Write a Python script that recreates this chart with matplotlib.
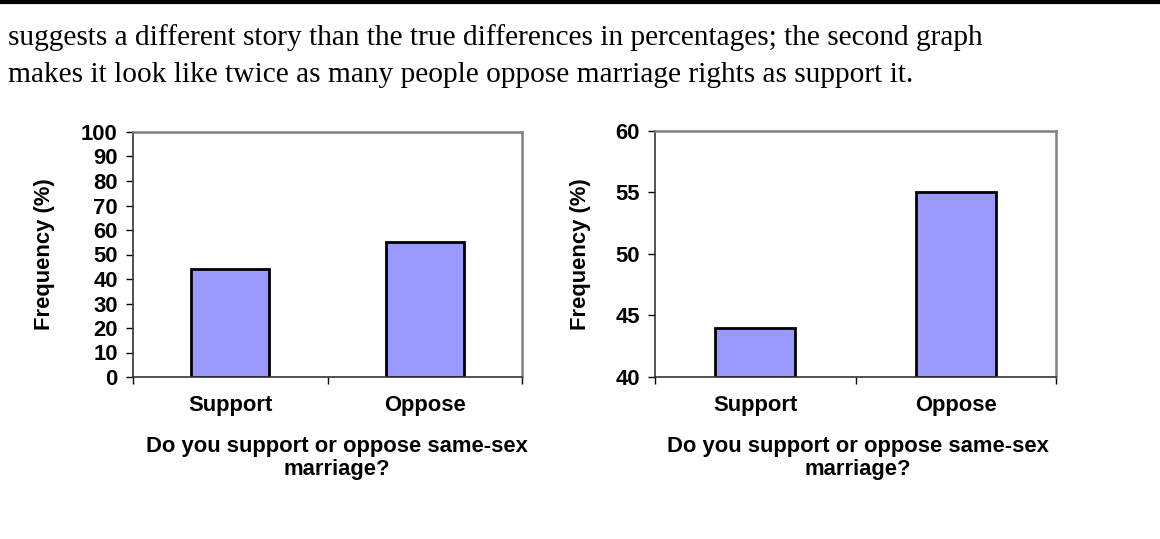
import matplotlib
matplotlib.use('Agg')
import matplotlib.pyplot as plt
from matplotlib.ticker import FixedLocator

# data
categories = ['Support', 'Oppose']
frequency = [44, 55]
left_ticks = list(range(0, 101, 10))
right_ticks = [40, 45, 50, 55, 60]
body_lines = [
    'suggests a different story than the true differences in percentages; the second graph',
    'makes it look like twice as many people oppose marriage rights as support it.',
]
ylabel = 'Frequency (%)'
xlabel = 'Do you support or oppose same-sex\nmarriage?'

W, H = 1160, 539
DPI = 100
BAR_COLOR = '#9999FF'
FS = 15.8

plt.rcParams['font.family'] = ['Liberation Sans', 'DejaVu Sans']

fig = plt.figure(figsize=(W / DPI, H / DPI), dpi=DPI)
fig.patch.set_facecolor('white')


def px_axes(left, top, right, bottom):
    # axes from pixel box
    return fig.add_axes([left / W, 1 - bottom / H, (right - left) / W, (bottom - top) / H])


def draw_chart(ax, ylim, yticks, ylabel_x, xlabel_x):
    x = list(range(len(categories)))
    ax.bar(x, [v - ylim[0] for v in frequency], bottom=ylim[0], width=0.4,
           color=BAR_COLOR, edgecolor='black', linewidth=2)
    ax.set_xlim(-0.5, len(categories) - 0.5)
    ax.set_ylim(*ylim)
    ax.set_yticks(yticks)
    ax.set_yticklabels([str(t) for t in yticks], fontweight='bold', fontsize=FS)
    ax.set_xticks(x)
    ax.set_xticklabels(categories, fontweight='bold', fontsize=FS)
    ax.xaxis.set_minor_locator(FixedLocator([i - 0.5 for i in range(len(categories) + 1)]))
    ax.tick_params(axis='x', which='major', length=0, pad=13)
    ax.tick_params(axis='x', which='minor', length=5, width=1, direction='out', color='black')
    ax.tick_params(axis='y', length=5, width=1, direction='out', pad=6, color='black')
    for side in ['left', 'bottom']:
        ax.spines[side].set_color('#333333')
        ax.spines[side].set_linewidth(1.2)
    for side in ['top', 'right']:
        ax.spines[side].set_color('#808080')
        ax.spines[side].set_linewidth(1.8)
    ax.set_ylabel(ylabel, fontweight='bold', fontsize=FS)
    ax.yaxis.set_label_coords(ylabel_x, 0.5)
    ax.set_xlabel(xlabel, fontweight='bold', fontsize=FS, linespacing=1.15)
    ax.xaxis.set_label_coords(xlabel_x, -0.24)


ax1 = px_axes(133, 132, 522, 377)
draw_chart(ax1, (0, 100), left_ticks, (55 - 133) / 389, (337 - 133) / 389)

ax2 = px_axes(655, 131, 1056, 377)
draw_chart(ax2, (40, 60), right_ticks, (591 - 655) / 401, (858 - 655) / 401)

# rule at the top of the page
fig.add_artist(plt.Line2D([0, 1], [1 - 2 / H, 1 - 2 / H], color='black', linewidth=3,
                          transform=fig.transFigure))

for i, line in enumerate(body_lines):
    fig.text(8 / W, 1 - (45 + i * 37) / H, line, family=['Liberation Serif', 'DejaVu Serif'],
             fontsize=21.2, va='baseline', ha='left')

fig.savefig('out.png', dpi=DPI, facecolor='white')
